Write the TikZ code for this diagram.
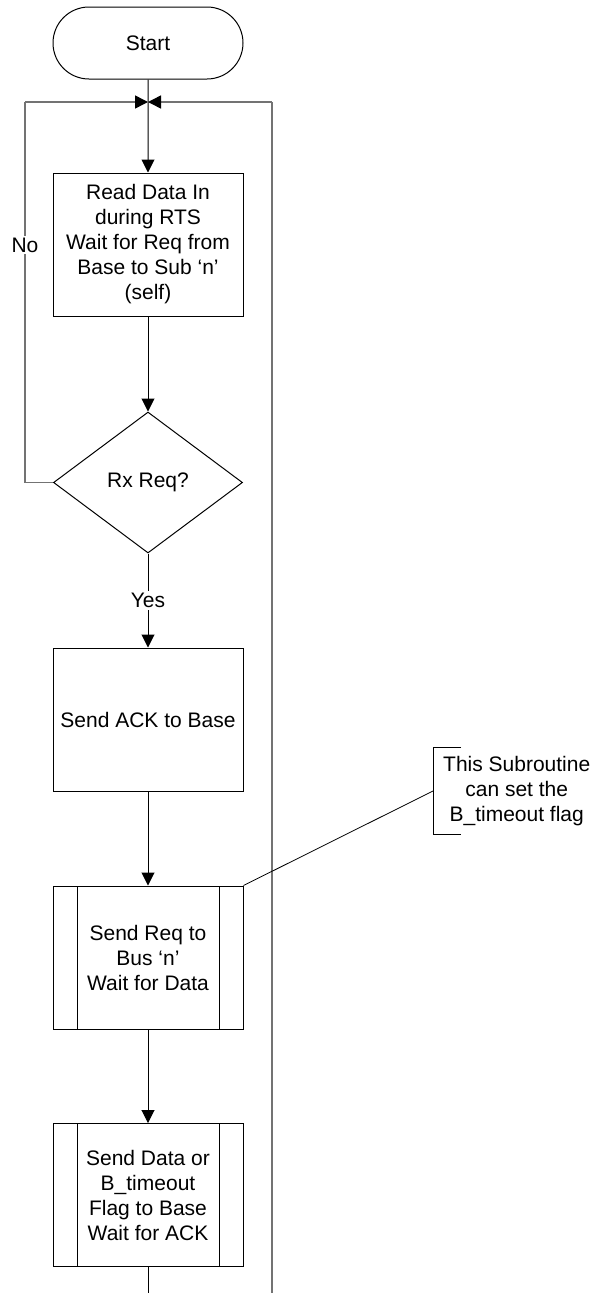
\documentclass[tikz,border=0pt]{standalone}
\usepackage{fontspec}
\setmainfont{Liberation Sans}
\usetikzlibrary{arrows.meta,shapes.geometric,shapes.misc}
\begin{document}
\begin{tikzpicture}[x=1pt,y=-1pt,
  txt/.style={font=\fontsize{21}{25}\selectfont, align=center},
  line/.style={draw=black, line width=1pt},
  arr/.style={line, -{Triangle[length=13pt,width=13pt]}},
  loopline/.style={draw=black!55, line width=1.5pt},
  looparr/.style={loopline, -{Triangle[length=13pt,width=13pt,fill=black,color=black]}},
  term/.style={txt, draw, line width=1pt, rounded rectangle, minimum width=190pt, minimum height=72pt, inner sep=0pt},
  procbox/.style={txt, draw, line width=1pt, rectangle, minimum width=190pt, minimum height=143pt, inner sep=0pt},
  decision/.style={txt, draw, line width=1pt, diamond, aspect=1.34, minimum width=189pt, minimum height=141pt, inner sep=0pt},
  subbox/.style={procbox, path picture={
      \draw[line width=1pt] ([xshift=24pt]path picture bounding box.north west) -- ([xshift=24pt]path picture bounding box.south west);
      \draw[line width=1pt] ([xshift=-24pt]path picture bounding box.north east) -- ([xshift=-24pt]path picture bounding box.south east);}},
  lbl/.style={txt, fill=white, inner sep=2pt},
  note/.style={txt, inner xsep=10pt, inner ysep=0pt, minimum height=86pt}
]
\useasboundingbox (0,0) rectangle (593,1293);

\node[term] (start) at (148,43) {Start};
\coordinate (m) at (148,102);
\node[procbox] (read) at (148,244.5) {Read Data In\\during RTS\\Wait for Req from\\Base to Sub ‘n’\\(self)};
\node[decision] (dec) at (148,482.5) {Rx Req?};
\node[procbox] (ack) at (148,719.5) {Send ACK to Base};
\node[subbox] (sub1) at (148,957.5) {Send Req to\\Bus ‘n’\\Wait for Data};
\node[subbox] (sub2) at (148,1195) {Send Data or\\B\_timeout\\Flag to Base\\Wait for ACK};
\node[note, anchor=west] (nt) at (433,791) {This Subroutine\\can set the\\B\_timeout flag};

\coordinate (nl) at (25,102);
\coordinate (nr) at (272,102);
\coordinate (br) at (272,1293);
\coordinate (bb) at (148,1293);

% main flow
\draw[arr] (start) -- (read);
\draw[arr] (read) -- (dec);
\draw[arr] (dec) -- node[lbl, pos=0.5] {Yes} (ack);
\draw[arr] (ack) -- (sub1);
\draw[arr] (sub1) -- (sub2);
\draw[line] (sub2) -- (bb);

% loops
\draw[loopline] (dec.west) -| (nl);
\draw[looparr] (nl) -- (m);
\draw[loopline] (br) -- (nr);
\draw[looparr] (nr) -- (m);
\node[lbl] (no) at (25,245) {No};

% annotation
\draw[line] ([xshift=28pt]nt.north west) -- (nt.north west) -- (nt.south west) -- ([xshift=28pt]nt.south west);
\draw[line width=0.8pt] (nt.west) -- (sub1.north east);
\end{tikzpicture}
\end{document}
